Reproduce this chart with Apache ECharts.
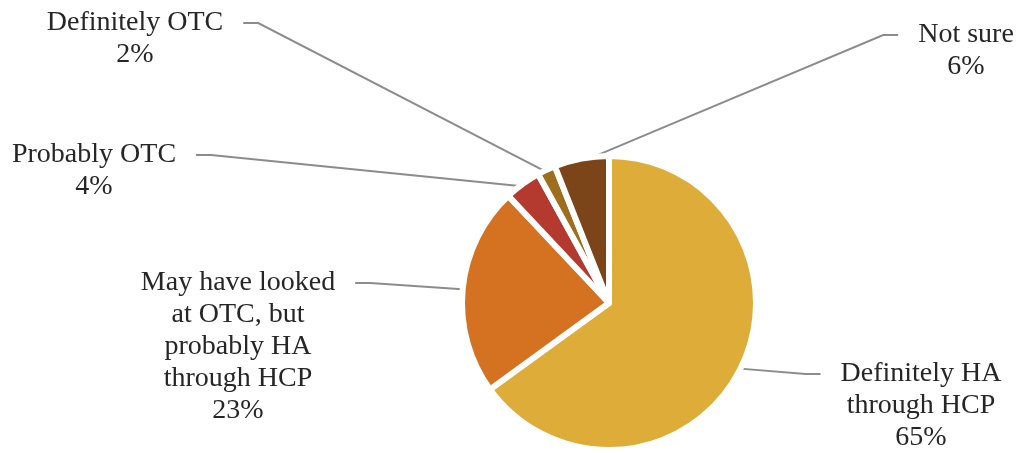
<!DOCTYPE html>
<html>
<head>
<meta charset="utf-8">
<script src="https://cdn.jsdelivr.net/npm/echarts@6/dist/echarts.min.js"></script>
<style>
  html, body { margin: 0; padding: 0; background: #ffffff; }
  #chart { width: 1022px; height: 453px; }
</style>
</head>
<body>
<div id="chart"></div>
<script>
// ---- data ----
const categories = [
  'Definitely HA\nthrough HCP',
  'May have looked\nat OTC, but\nprobably HA\nthrough HCP',
  'Probably OTC',
  'Definitely OTC',
  'Not sure'
];
const values = [65, 23, 4, 2, 6];
const colors = ['#DEAD39', '#D47222', '#B4392F', '#9E6E1E', '#7C4519'];

// ---- label placement (layout only) ----
const labelCenters = [
  [921, 406],
  [238, 347],
  [94, 171],
  [135, 39],
  [966, 51]
];

const FONT_SIZE = 28;
const LINE_H = 32;
const PIE_CX = 609, PIE_CY = 303, PIE_R = 147, BORDER = 6;

const chart = echarts.init(document.getElementById('chart'));
const total = values.reduce((a, b) => a + b, 0);

// point on the visible outer edge at a slice's mid-angle (derived from the data)
function midPoint(i) {
  let cum = 0;
  for (let k = 0; k < i; k++) cum += values[k];
  const frac = (cum + values[i] / 2) / total;
  const ang = frac * Math.PI * 2;
  const r = PIE_R - BORDER / 2;
  return [PIE_CX + r * Math.sin(ang), PIE_CY - r * Math.cos(ang)];
}

chart.setOption({
  animation: false,
  backgroundColor: '#ffffff',
  series: [{
    type: 'pie',
    center: [PIE_CX, PIE_CY],
    radius: PIE_R,
    startAngle: 90,
    clockwise: true,
    avoidLabelOverlap: false,
    emphasis: { disabled: true },
    itemStyle: { borderColor: '#ffffff', borderWidth: BORDER, borderJoin: 'round' },
    label: {
      show: true,
      position: 'outside',
      formatter: p => p.name + '\n' + p.value + '%',
      fontFamily: 'Liberation Serif',
      fontSize: FONT_SIZE,
      lineHeight: LINE_H,
      color: '#262626',
      align: 'center'
    },
    labelLine: {
      show: true,
      length: 20,
      length2: 20,
      smooth: false,
      lineStyle: { color: '#8c8c8c', width: 2 }
    },
    labelLayout: function (params) {
      const i = params.dataIndex;
      const c = labelCenters[i];
      const w = params.labelRect.width;
      const h = params.labelRect.height;
      const start = midPoint(i);
      const leftSide = c[0] < PIE_CX;
      const gap = 20;
      const endX = leftSide ? c[0] + w / 2 + gap : c[0] - w / 2 - gap;
      const endY = c[1] - h / 2 + LINE_H / 2;
      const bendX = leftSide ? endX + 15 : endX - 15;
      return {
        x: c[0],
        y: c[1],
        align: 'center',
        verticalAlign: 'middle',
        hideOverlap: false,
        labelLinePoints: [start, [bendX, endY], [endX, endY]]
      };
    },
    data: categories.map((name, i) => ({
      name: name,
      value: values[i],
      itemStyle: { color: colors[i] }
    }))
  }]
});
</script>
</body>
</html>
